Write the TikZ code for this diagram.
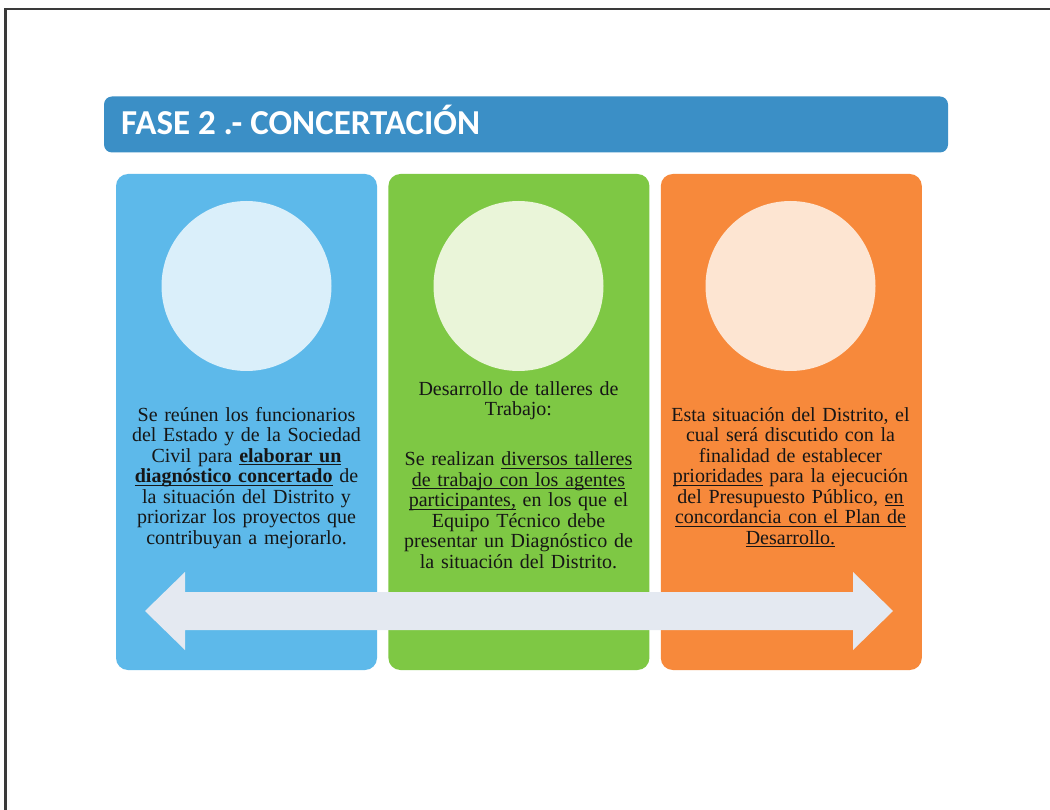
\documentclass[tikz,border=0pt]{standalone}
\usepackage{fontspec}
\setmainfont{Liberation Serif}
\newfontfamily\titlefont{Carlito}
\usepackage{tikz}
\usetikzlibrary{positioning}

\definecolor{framegray}{HTML}{3A3A3A}
\definecolor{titleblue}{HTML}{3B8FC6}
\definecolor{skyblue}{HTML}{5DB9EA}
\definecolor{skylight}{HTML}{DAEFFA}
\definecolor{leafgreen}{HTML}{7EC844}
\definecolor{leaflight}{HTML}{EAF5D9}
\definecolor{sunorange}{HTML}{F7893B}
\definecolor{sunlight}{HTML}{FDE5D2}
\definecolor{arrowgray}{HTML}{E4E9F1}
\definecolor{inkdark}{HTML}{161616}

\newcommand{\undl}[1]{\leavevmode\setbox0\hbox{#1}\rlap{\rule[-3pt]{\wd0}{0.9pt}}\box0\relax}

\begin{document}
\begin{tikzpicture}[x=1pt,y=-1pt,
    panel/.style={rectangle,rounded corners=12pt,minimum width=261pt,minimum height=496pt,inner sep=0pt},
    disc/.style={circle,minimum size=170pt,inner sep=0pt},
    bodytext/.style={anchor=north,align=center,text width=255pt,inner sep=0pt,text=inkdark,font=\fontsize{20}{20.5}\selectfont}
  ]
  \useasboundingbox (0,0) rectangle (1050,810);
  \fill[white] (0,0) rectangle (1050,810);
  \draw[framegray,line width=2.5pt] (5.25,810) -- (5.25,9.25) -- (1050,9.25);

  \node[rectangle,rounded corners=8pt,fill=titleblue,minimum width=844pt,minimum height=56pt,inner sep=0pt] (titlebar) at (526,124.5) {};
  \node[anchor=base west,inner sep=0pt,text=white,font=\titlefont\bfseries\fontsize{35}{35}\selectfont] (title) at (121,135) {FASE 2 .- CONCERTACIÓN};

  \node[panel,fill=skyblue] (bluepanel) at (246.5,422) {};
  \node[panel,fill=leafgreen,right=11pt of bluepanel] (greenpanel) {};
  \node[panel,fill=sunorange,right=11pt of greenpanel] (orangepanel) {};

  \node[disc,fill=skylight] (bluedisc) at (246.5,286) {};
  \node[disc,fill=leaflight] (greendisc) at (518.5,286) {};
  \node[disc,fill=sunlight] (orangedisc) at (790.5,286) {};

  \node[bodytext] (bluetext) at (246.5,407) {Se reúnen los funcionarios\\ del Estado y de la Sociedad\\ Civil para \undl{\textbf{elaborar un}}\\ \undl{\textbf{diagnóstico concertado}} de\\ la situación del Distrito y\\ priorizar los proyectos que\\ contribuyan a mejorarlo.};
  \node[bodytext] (greentext) at (518.5,381) {Desarrollo de talleres de\\ Trabajo:\\[29.5pt] Se realizan \undl{diversos talleres}\\ \undl{de trabajo con los agentes}\\ \undl{participantes,} en los que el\\ Equipo Técnico debe\\ presentar un Diagnóstico de\\ la situación del Distrito.};
  \node[bodytext] (orangetext) at (790.5,407) {Esta situación del Distrito, el\\ cual será discutido con la\\ finalidad de establecer\\ \undl{prioridades} para la ejecución\\ del Presupuesto Público, \undl{en}\\ \undl{concordancia con el Plan de}\\ \undl{Desarrollo.}};

  \fill[arrowgray] (145,611) -- (185,572) -- (185,592) -- (853,592) -- (853,572) -- (893,611)
    -- (853,650) -- (853,630) -- (185,630) -- (185,650) -- cycle;
\end{tikzpicture}
\end{document}
